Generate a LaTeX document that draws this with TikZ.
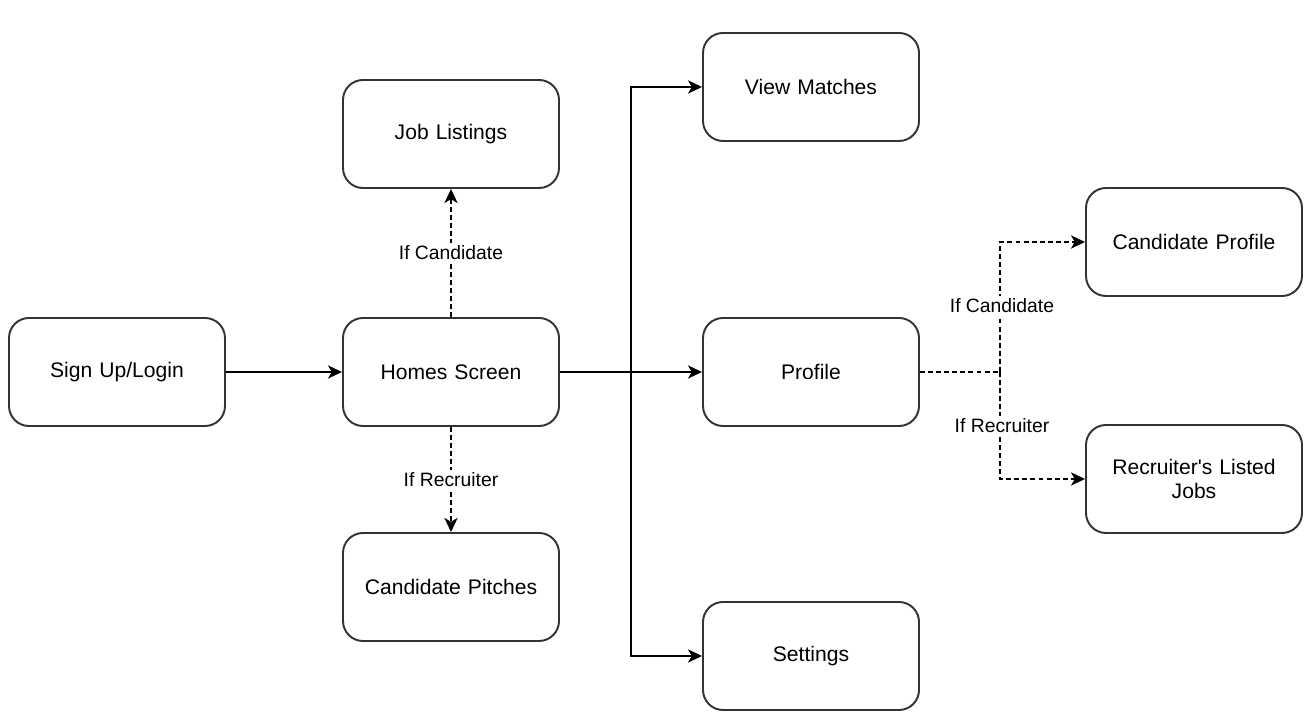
\documentclass[tikz,border=0pt]{standalone}
\usepackage{fontspec}
\setmainfont{Liberation Sans}
\usepackage{tikz}
\usetikzlibrary{positioning, arrows.meta}
\usepackage{xcolor}

\definecolor{edgegray}{HTML}{333333}

\begin{document}
\begin{tikzpicture}[
    screen/.style={draw=edgegray, line width=1.1pt, rounded corners=0.4cm,
        minimum width=4.32cm, minimum height=2.16cm, align=center,
        font=\fontsize{12}{14}\selectfont, text width=4cm},
    flow/.style={draw=black, line width=1pt, -{Stealth[length=8pt, width=7.5pt, inset=2.2pt]}},
    cond/.style={flow, dash pattern=on 2.8pt off 1.8pt},
    tag/.style={fill=white, inner sep=1.5pt, font=\fontsize{11}{13}\selectfont}
]
    \useasboundingbox (0,0) rectangle (26.32,14.44);

    % 屏幕节点
    \node[screen] (signup)   at (2.34,7.0)   {Sign Up/Login};
    \node[screen] (home)     at (9.02,7.0)   {Homes Screen};
    \node[screen] (jobs)     at (9.02,11.76) {Job Listings};
    \node[screen] (pitches)  at (9.02,2.7)   {Candidate Pitches};
    \node[screen] (matches)  at (16.22,12.7) {View Matches};
    \node[screen] (profile)  at (16.22,7.0)  {Profile};
    \node[screen] (settings) at (16.22,1.32) {Settings};
    \node[screen] (candprof) at (23.88,9.6)  {Candidate Profile};
    \node[screen] (recjobs)  at (23.88,4.86) {Recruiter\textquotesingle s Listed\\Jobs};

    % 分支点
    \coordinate (trunk) at (12.62,7.0);
    \coordinate (split) at (20.0,7.0);

    % 登录到主页
    \draw[flow] (signup) -- (home);

    % 主页条件分支
    \draw[cond] (home) -- node[tag] {If Candidate} (jobs);
    \draw[cond] (home) -- node[tag] {If Recruiter} (pitches);

    % 主页到各屏幕
    \draw[draw=black, line width=1.3pt] (home.east) -- (trunk);
    \draw[flow] (trunk) |- (matches);
    \draw[flow] (trunk) -- (profile);
    \draw[flow] (trunk) |- (settings);

    % 个人资料条件分支
    \draw[cond, -] (profile.east) -- (split);
    \draw[cond] (split) |- (candprof);
    \draw[cond] (split) |- (recjobs);
    \node[tag] (candtag) at (20.04,8.32) {If Candidate};
    \node[tag] (rectag)  at (20.04,5.92) {If Recruiter};
\end{tikzpicture}
\end{document}
